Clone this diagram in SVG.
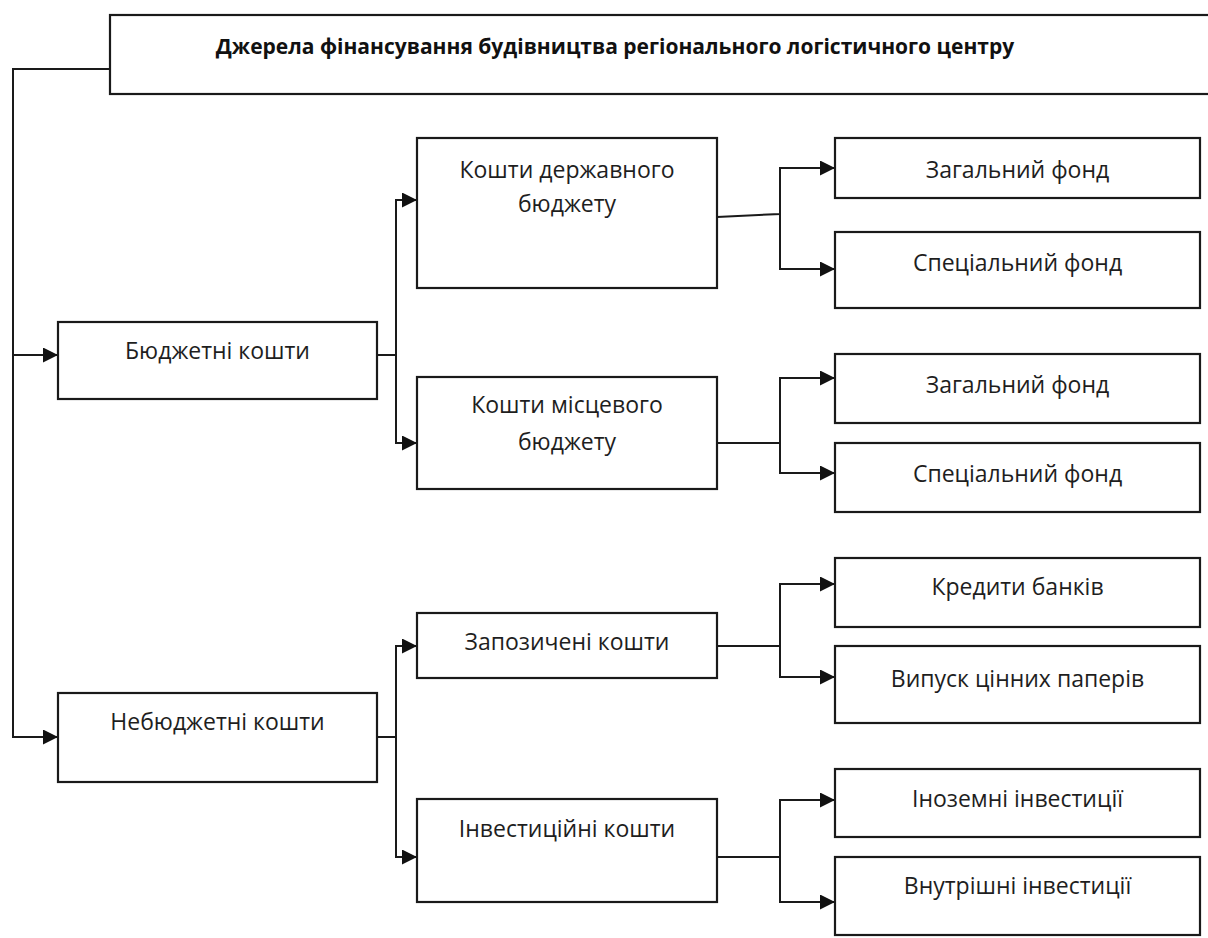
<svg xmlns="http://www.w3.org/2000/svg" width="1208" height="938" viewBox="0 0 1208 938">
<style>
.box{fill:#fff;stroke:#1a1a1a;stroke-width:2.2}
.t{font-family:"Open Sans","Liberation Sans",sans-serif;font-size:23px;fill:#1e1e1e;text-anchor:middle}
.tb{font-family:"Open Sans","Liberation Sans",sans-serif;font-size:21px;font-weight:bold;fill:#111;text-anchor:middle}
.c{fill:none;stroke:#1a1a1a;stroke-width:2}
</style>
<defs>
<marker id="ah" markerUnits="userSpaceOnUse" markerWidth="17" markerHeight="16" refX="15" refY="7.5" orient="auto">
<path d="M0,0 L15,7.5 L0,15 z" fill="#111"/>
</marker>
</defs>
<rect width="1208" height="938" fill="#fff"/>
<g id="connectors">
<path class="c" d="M110,69 H13 V355 H58" marker-end="url(#ah)"/>
<path class="c" d="M13,355 V737 H58" marker-end="url(#ah)"/>
<path class="c" d="M377,355 H396 V200 H417" marker-end="url(#ah)"/>
<path class="c" d="M396,355 V443 H417" marker-end="url(#ah)"/>
<path class="c" d="M717,217 L780,214 V168 H835" marker-end="url(#ah)"/>
<path class="c" d="M780,214 V269 H835" marker-end="url(#ah)"/>
<path class="c" d="M717,443 H780 V378 H835" marker-end="url(#ah)"/>
<path class="c" d="M780,443 V473 H835" marker-end="url(#ah)"/>
<path class="c" d="M377,737 H396 V646 H417" marker-end="url(#ah)"/>
<path class="c" d="M396,737 V857 H417" marker-end="url(#ah)"/>
<path class="c" d="M717,646 H780 V584 H835" marker-end="url(#ah)"/>
<path class="c" d="M780,646 V677 H835" marker-end="url(#ah)"/>
<path class="c" d="M717,857 H780 V800 H835" marker-end="url(#ah)"/>
<path class="c" d="M780,857 V902 H835" marker-end="url(#ah)"/>
</g>
<g id="title"><rect class="box" x="110" y="15" width="1110" height="79"/><text class="tb" x="615" y="54">Джерела фінансування будівництва регіонального логістичного центру</text></g>
<g id="budget"><rect class="box" x="58" y="322" width="319" height="77"/><text class="t" x="217.5" y="359">Бюджетні кошти</text></g>
<g id="nonbudget"><rect class="box" x="58" y="693" width="319" height="89"/><text class="t" x="217.5" y="730">Небюджетні кошти</text></g>
<g id="state"><rect class="box" x="417" y="138" width="300" height="150"/><text class="t" x="567" y="178">Кошти державного</text><text class="t" x="567" y="212">бюджету</text></g>
<g id="local"><rect class="box" x="417" y="377" width="300" height="112"/><text class="t" x="567" y="413">Кошти місцевого</text><text class="t" x="567" y="450">бюджету</text></g>
<g id="borrowed"><rect class="box" x="417" y="613" width="300" height="65"/><text class="t" x="567" y="650">Запозичені кошти</text></g>
<g id="invest"><rect class="box" x="417" y="799" width="300" height="103"/><text class="t" x="567" y="837">Інвестиційні кошти</text></g>
<g id="state-general"><rect class="box" x="835" y="138" width="365" height="60"/><text class="t" x="1017.5" y="178">Загальний фонд</text></g>
<g id="state-special"><rect class="box" x="835" y="232" width="365" height="76"/><text class="t" x="1017.5" y="271">Спеціальний фонд</text></g>
<g id="local-general"><rect class="box" x="835" y="354" width="365" height="69"/><text class="t" x="1017.5" y="393">Загальний фонд</text></g>
<g id="local-special"><rect class="box" x="835" y="443" width="365" height="69"/><text class="t" x="1017.5" y="482">Спеціальний фонд</text></g>
<g id="bank-credits"><rect class="box" x="835" y="558" width="365" height="69"/><text class="t" x="1017.5" y="595">Кредити банків</text></g>
<g id="securities"><rect class="box" x="835" y="646" width="365" height="77"/><text class="t" x="1017.5" y="687">Випуск цінних паперів</text></g>
<g id="foreign"><rect class="box" x="835" y="769" width="365" height="68"/><text class="t" x="1017.5" y="807">Іноземні інвестиції</text></g>
<g id="domestic"><rect class="box" x="835" y="857" width="365" height="78"/><text class="t" x="1017.5" y="894">Внутрішні інвестиції</text></g>
</svg>
